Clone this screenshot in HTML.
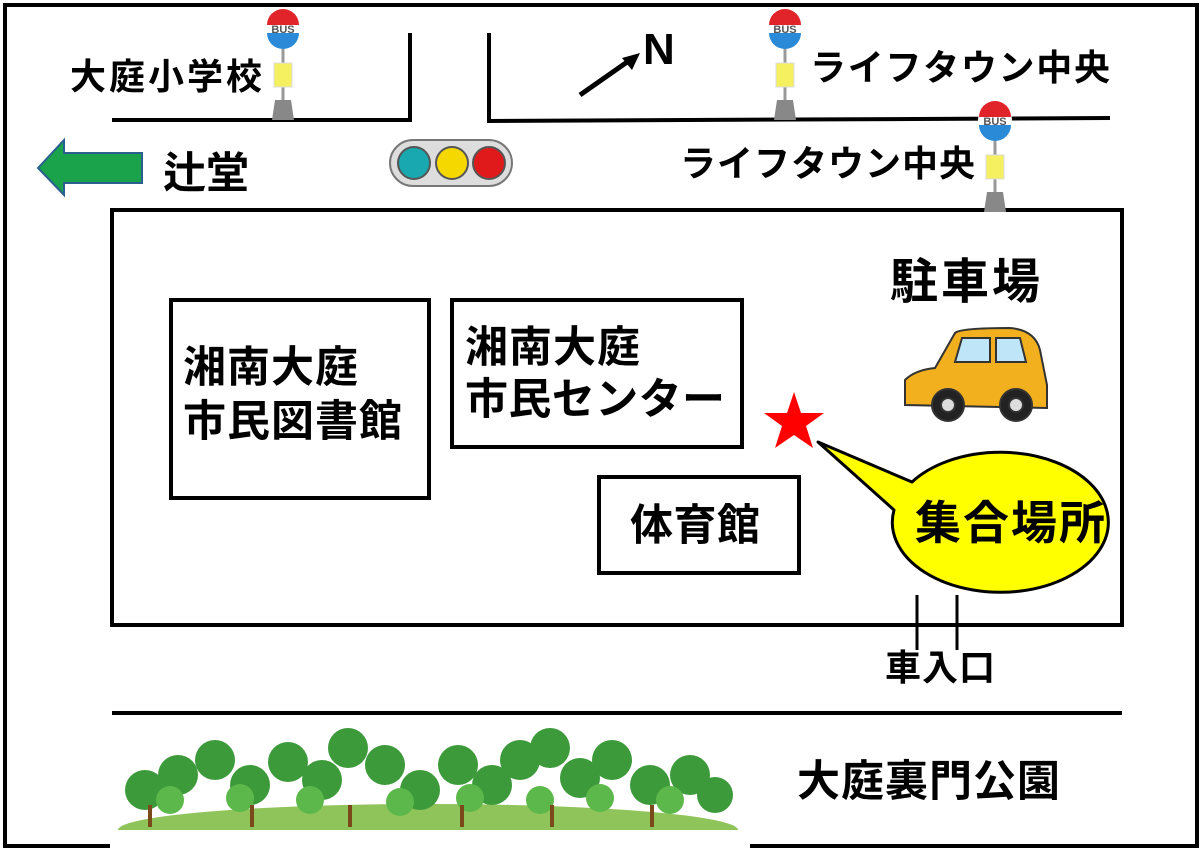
<!DOCTYPE html>
<html><head><meta charset="utf-8"><style>
body{margin:0;background:#fff}
svg{display:block}
text{font-family:"Liberation Sans","Noto Sans CJK JP",sans-serif;font-weight:bold;fill:#000}
</style></head><body>
<svg width="1202" height="851" viewBox="0 0 1202 851" xmlns="http://www.w3.org/2000/svg">
<rect x="5" y="5" width="1192" height="841" fill="#fff" stroke="#000" stroke-width="4"/>
<g stroke="#000" stroke-width="4" fill="none">
<polyline points="112,120 410,120 410,33"/>
<polyline points="489,33 489,121 1110,118"/>
<rect x="112" y="210" width="1010" height="415"/>
<line x1="112" y1="713" x2="1122" y2="713"/>
<line x1="917" y1="595" x2="917" y2="650" stroke-width="3"/>
<line x1="957" y1="595" x2="957" y2="650" stroke-width="3"/>
<rect x="171" y="300" width="258" height="198"/>
<rect x="452" y="300" width="290" height="147"/>
<rect x="599" y="477" width="200" height="96"/>
</g>
<line x1="580" y1="95" x2="630" y2="60" stroke="#000" stroke-width="5"/>
<polygon points="640,53 622,58 632,70" fill="#000"/>
<text x="643" y="64" font-size="44">N</text>
<polygon points="38,168 64,140 64,153 142,153 142,183 64,183 64,195" fill="#1aa34a" stroke="#2a5f8f" stroke-width="2"/>
<text x="163" y="188" font-size="43">辻堂</text>
<rect x="390" y="140" width="122" height="46" rx="23" fill="#ddd" stroke="#777" stroke-width="2"/>
<circle cx="414" cy="163" r="16" fill="#1aa8b0" stroke="#555" stroke-width="2"/>
<circle cx="452" cy="163" r="16" fill="#f5d800" stroke="#555" stroke-width="2"/>
<circle cx="489" cy="163" r="16" fill="#e01a1a" stroke="#555" stroke-width="2"/>
<defs>
<g id="bus">
<line x1="0" y1="0" x2="0" y2="75" stroke="#999" stroke-width="3"/>
<circle cx="0" cy="0" r="17" fill="#fff"/>
<path d="M-16,-3 A16,16 0 0 1 16,-3 Z" fill="#e0242a"/>
<path d="M-16,5 A16,16 0 0 0 16,5 Z" fill="#2a8ad8"/>
<text x="0" y="5" font-size="11" text-anchor="middle" style="fill:#555">BUS</text>
<rect x="-9" y="35" width="18" height="24" fill="#f4f060" stroke="#ddd"/>
<polygon points="-8,72 8,72 11,92 -11,92" fill="#888"/>
</g>
</defs>
<use href="#bus" x="283" y="28"/>
<use href="#bus" x="785" y="28"/>
<use href="#bus" x="995" y="120"/>
<text x="70" y="89" font-size="36" textLength="192">大庭小学校</text>
<text x="810" y="80" font-size="36" textLength="300">ライフタウン中央</text>
<text x="680" y="176" font-size="36" textLength="295">ライフタウン中央</text>
<text x="183" y="382" font-size="43" textLength="175">湘南大庭</text>
<text x="183" y="436" font-size="43" textLength="219">市民図書館</text>
<text x="465" y="362" font-size="43" textLength="175">湘南大庭</text>
<text x="465" y="414" font-size="43" textLength="260">市民センター</text>
<text x="630" y="540" font-size="43" textLength="130">体育館</text>
<text x="890" y="298" font-size="48" textLength="150">駐車場</text>
<g stroke="#333" stroke-width="2">
<path d="M905,405 L905,380 Q915,370 935,368 L955,333 Q960,328 1010,328 Q1035,330 1040,350 L1047,385 L1047,408 Z" fill="#f2b01e"/>
<path d="M955,362 L962,338 L990,338 L990,362 Z" fill="#bfe6f8"/>
<path d="M996,338 L1020,338 L1026,362 L996,362 Z" fill="#bfe6f8"/>
<circle cx="948" cy="405" r="16" fill="#222"/><circle cx="948" cy="405" r="7" fill="#ddd"/>
<circle cx="1016" cy="405" r="16" fill="#222"/><circle cx="1016" cy="405" r="7" fill="#ddd"/>
</g>
<polygon points="794,392 801,413 824,413 806,426 813,448 794,435 775,448 782,426 764,413 787,413" fill="#f00"/>
<path d="M818,442 L912,482 A108,70 0 1 1 894,510 Z" fill="#ffff00" stroke="#000" stroke-width="3" stroke-linejoin="round"/>
<text x="915" y="539" font-size="46" textLength="190">集合場所</text>
<text x="885" y="680" font-size="36" textLength="110">車入口</text>
<ellipse cx="428" cy="830" rx="310" ry="26" fill="#8fc45a"/>
<rect x="110" y="830" width="640" height="21" fill="#fff"/>
<g fill="#3c9a3a">
<circle cx="145" cy="790" r="20"/><circle cx="178" cy="775" r="20"/><circle cx="215" cy="760" r="20"/>
<circle cx="250" cy="785" r="20"/><circle cx="288" cy="762" r="20"/><circle cx="322" cy="780" r="20"/>
<circle cx="348" cy="748" r="20"/><circle cx="385" cy="765" r="20"/><circle cx="420" cy="790" r="20"/>
<circle cx="458" cy="765" r="20"/><circle cx="492" cy="785" r="20"/><circle cx="520" cy="760" r="20"/>
<circle cx="550" cy="748" r="20"/><circle cx="580" cy="778" r="20"/><circle cx="612" cy="760" r="20"/>
<circle cx="650" cy="785" r="20"/><circle cx="690" cy="775" r="20"/><circle cx="715" cy="795" r="18"/>
</g>
<g fill="#5cb84a">
<circle cx="170" cy="800" r="14"/><circle cx="240" cy="798" r="14"/><circle cx="310" cy="800" r="14"/>
<circle cx="400" cy="802" r="14"/><circle cx="470" cy="798" r="14"/><circle cx="540" cy="800" r="14"/>
<circle cx="600" cy="798" r="14"/><circle cx="670" cy="800" r="14"/>
</g>
<g fill="#7a4a1a">
<rect x="148" y="805" width="4" height="22"/><rect x="250" y="805" width="4" height="22"/><rect x="348" y="805" width="4" height="22"/><rect x="460" y="805" width="4" height="22"/><rect x="550" y="805" width="4" height="22"/><rect x="650" y="805" width="4" height="22"/>
</g>
<text x="797" y="796" font-size="43" textLength="263">大庭裏門公園</text>
</svg>
</body></html>
